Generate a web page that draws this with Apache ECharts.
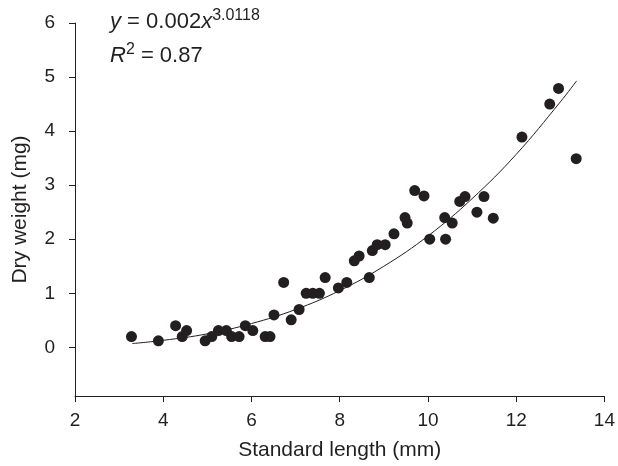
<!DOCTYPE html>
<html>
<head>
<meta charset="utf-8">
<script src="https://cdn.jsdelivr.net/npm/echarts@6/dist/echarts.min.js"></script>
<style>
html,body{margin:0;padding:0;background:#fff;}
#chart{width:618px;height:466px;}
</style>
</head>
<body>
<div id="chart"></div>
<script>
// Observed points: standard length (mm) and dry weight (mg)
var lengthMm = [3.28,3.89,4.28,4.43,4.53,4.95,5.10,5.25,5.43,5.55,5.72,5.86,6.03,6.31,6.42,6.51,6.73,6.90,7.08,7.24,7.39,7.54,7.67,7.97,8.16,8.33,8.44,8.67,8.74,8.85,9.03,9.23,9.48,9.53,9.70,9.91,10.04,10.38,10.40,10.55,10.72,10.84,11.11,11.27,11.48,12.13,12.76,12.96,13.36];
var dryWeight = [0.20,0.12,0.40,0.20,0.31,0.12,0.20,0.31,0.31,0.20,0.20,0.40,0.31,0.20,0.20,0.60,1.20,0.51,0.70,1.00,1.00,1.00,1.29,1.10,1.20,1.60,1.69,1.29,1.79,1.90,1.90,2.10,2.40,2.30,2.90,2.80,2.00,2.40,2.00,2.30,2.70,2.79,2.50,2.79,2.39,3.89,4.50,4.79,3.49];
// Fitted curve
var fitX = [3.3,4,5,6,7,8,9,10,11,12,13,13.37];
var fitY = [0.07,0.13,0.25,0.44,0.70,1.05,1.50,2.06,2.75,3.57,4.54,4.93];
var xTicks = [2,4,6,8,10,12,14];
var yTicks = [0,1,2,3,4,5,6];

var ink = '#231f20';
var font = 'Liberation Sans';
var chart = echarts.init(document.getElementById('chart'), null, {renderer:'canvas'});
chart.setOption({
  animation: false,
  backgroundColor: '#fff',
  grid: {left: 75, right: 12, top: 23, bottom: 70},
  xAxis: {
    type: 'value', min: 2, max: 14, interval: 2,
    name: 'Standard length (mm)', nameLocation: 'middle', nameGap: 44,
    nameTextStyle: {color: ink, fontSize: 21, fontFamily: font},
    axisLine: {onZero: false, lineStyle: {color: ink, width: 1}},
    axisTick: {show: true, length: 6, inside: false, lineStyle: {color: ink}},
    axisLabel: {color: ink, fontSize: 19, fontFamily: font, margin: 15,
      customValues: xTicks},
    splitLine: {show: false}
  },
  yAxis: {
    type: 'value', min: -0.9, max: 6,
    name: 'Dry weight (mg)', nameLocation: 'middle', nameGap: 44, nameRotate: 90,
    nameTextStyle: {color: ink, fontSize: 21, fontFamily: font},
    axisLine: {show: true, onZero: false, lineStyle: {color: ink, width: 1}},
    axisTick: {show: true, length: 6, inside: false, lineStyle: {color: ink}, customValues: yTicks},
    axisLabel: {color: ink, fontSize: 19, fontFamily: font, margin: 20, customValues: yTicks},
    splitLine: {show: false}
  },
  series: [
    {
      type: 'scatter',
      data: lengthMm.map(function(v,i){return [v, dryWeight[i]];}),
      symbol: 'circle', symbolSize: 11,
      itemStyle: {color: ink, opacity: 1},
      z: 3
    },
    {
      type: 'line',
      data: fitX.map(function(v,i){return [v, fitY[i]];}),
      smooth: 0.4, showSymbol: false, symbol: 'none',
      lineStyle: {color: ink, width: 1},
      z: 2
    }
  ],
  graphic: [
    {
      type: 'text', left: 110, top: 8,
      style: {
        text: '{i|y} = 0.002{i|x}{s|3.0118}',
        fill: ink, font: '22px Liberation Sans',
        rich: {
          i: {fontStyle: 'italic', fontSize: 22, fontFamily: font, fill: ink},
          s: {fontSize: 16, fontFamily: font, fill: ink, padding: [0,0,11,0]}
        }
      }
    },
    {
      type: 'text', left: 110, top: 42,
      style: {
        text: '{i|R}{s|2} = 0.87',
        fill: ink, font: '22px Liberation Sans',
        rich: {
          i: {fontStyle: 'italic', fontSize: 22, fontFamily: font, fill: ink},
          s: {fontSize: 16, fontFamily: font, fill: ink, padding: [0,0,11,0]}
        }
      }
    }
  ]
});
</script>
</body>
</html>
